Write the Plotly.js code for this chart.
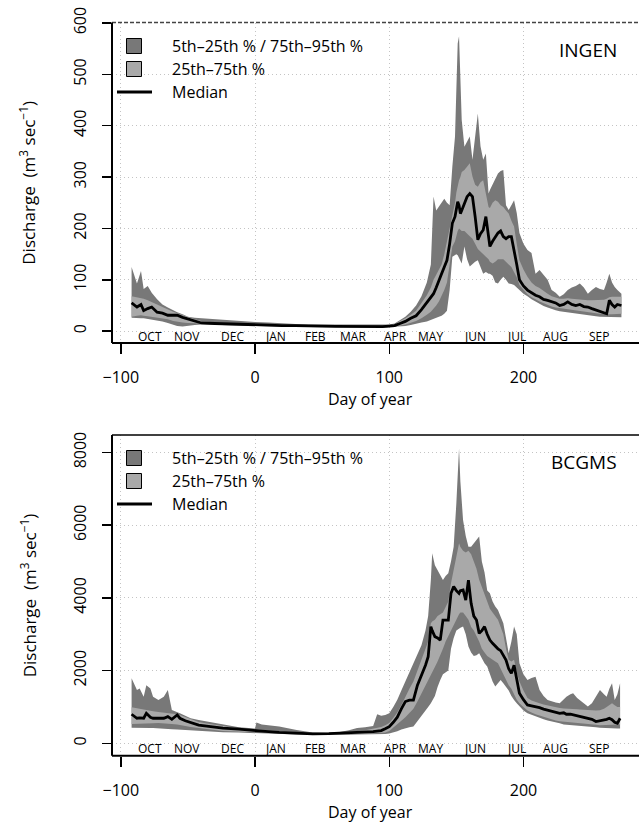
<!DOCTYPE html>
<html>
<head>
<meta charset="utf-8">
<script src="https://cdn.plot.ly/plotly-3.0.1.min.js"></script>
<style>html,body{margin:0;padding:0;background:#fff;}#chart{width:639px;height:823px;}</style>
</head>
<body>
<div id="chart"></div>
<script>
// ---------- DATA ----------
const monthLabels = ["OCT","NOV","DEC","JAN","FEB","MAR","APR","MAY","JUN","JUL","AUG","SEP"];
const monthPos = [-78,-51,-17,15,45,73,105,131,164,195,224,256];
const xTickVals = [-100,0,100,200];
const xTickText = ["\u2212100","0","100","200"];
const ingenYTicks = [0,100,200,300,400,500,600];
const bcgmsYTicks = [0,2000,4000,6000,8000];
const legendLabels = ["5th\u201325th % / 75th\u201395th %","25th\u201375th %","Median"];

// INGEN
const ingenDays = [-92,-88,-85,-83,-80,-77,-73,-69,-65,-61,-58,-54,-50,-45,-40,-30,-20,-10,0,10,20,30,40,50,60,70,80,90,95,100,104,108,112,116,120,124,128,131,133,135,137,139,141,143,145,147,149,150,151,152,153,154,156,158,160,162,164,166,168,170,172,174,175,177,179,181,183,185,187,189,191,193,195,197,200,203,206,209,212,215,218,221,224,227,230,233,236,239,242,245,248,251,254,257,260,262,264,266,268,270,273];
const ingenP5 = [26,26,25,25,24,23,21,19,16,13, 10,9,10,12,13,12,12,11,10,10, 9,9,8,8,8,7,7,7,7,7, 8,9,10,12,14,17,19,22,24,26, 28,30,34,40,80,145,148,150,148,145, 138,132,165,140,126,130,135,138,125,112, 115,112,112,108,95,93,100,106,100,93, 92,90,86,80,73,68,62,57,53,49, 46,43,41,39,37,36,35,34,33,32, 31,30,29,28,28,27,27,27,27,27, 27];
const ingenP25 = [28,30,31,30,29,28,27,25,23,20, 18,17,16,15,14,13,13,12,11,11, 10,10,9,9,9,8,8,8,8,8, 9,11,13,16,20,25,32,38,44,50, 58,68,80,95,130,165,175,185,195,200, 198,195,195,190,185,180,170,160,155,150, 145,140,135,132,135,140,140,140,135,130, 125,115,105,90,80,72,66,62,58,54, 51,48,46,44,43,42,41,40,39,38, 37,36,35,34,33,33,33,33,33,33, 34];
const ingenMedian = [55,47,52,40,44,47,37,35,31,31, 31,27,24,19,16,15,14,13,12.7,12, 11,11,10,10,9.5,9,9,9,9,10, 11,15,19,25,30,42,55,65,73,85, 100,112,125,138,170,210,223,240,252,245, 229,235,249,262,268,262,223,178,190,197, 223,190,165,175,184,191,195,184,180,184, 184,160,130,100,88,80,75,70,67,62, 60,57,55,50,52,57,52,50,52,48, 47,44,41,38,35,34,60,52,47,52, 50];
const ingenP75 = [68,66,65,63,60,57,52,47,42,38, 35,31,27,23,20,17,16,15,14,13, 12,12,11,11,10.5,10,10,10,10,11, 13,20,25,32,40,55,70,85,100,110, 120,130,150,175,200,230,250,270,285,294, 300,310,314,320,327,301,285,281,290,294, 270,242,240,250,255,252,245,242,235,229, 215,204,170,138,120,106,95,88,84,78, 73,68,65,63,63,64,63,62,62,61, 60,60,60,60,61,63,66,67,67,67, 67];
const ingenP95 = [125,93,117,82,88,75,62,52,46,40, 37,33,28,26,25,23,21,19,18,17, 15,14,13,13,12,12,12,12,12,13, 15,22,28,38,50,68,95,130,262,235, 242,250,258,250,245,320,379,470,560,574, 480,411,359,370,379,334,380,424,360,334, 346,268,275,285,295,307,312,314,245,236, 245,255,230,191,170,158,152,112,119,110, 100,80,75,67,72,80,85,88,93,85, 73,80,86,82,80,95,112,95,86,80, 73];

// BCGMS
const bcgmsDays = [-92,-88,-86,-83,-81,-78,-76,-72,-68,-65,-62,-58,-56,-52,-48,-42,-36,-30,-24,-12,0,1,5,18,31,43,55,63,70,76,82,88,91,94,97,100,103,106,109,112,115,118,121,124,127,129,131,132,134,136,138,140,142,144,146,148,150,152,153,155,157,159,161,163,165,167,169,171,173,175,177,179,181,183,185,187,189,191,193,195,197,200,203,206,209,212,215,218,221,224,227,230,232,235,237,240,242,245,248,251,254,257,260,262,264,266,268,270,272];
const bcgmsP5 = [430,430,430,430,425,420,420,415,410,400, 390,380,375,365,360,340,325,315,305,295, 285,285,280,265,245,235,230,230,235,240, 245,250,255,255,260,270,290,330,380,420, 440,460,600,750,900,1000,1100,1150,1300,1550, 1740,1900,1950,2000,2600,2900,3100,3150,3180,3210, 3000,2660,2500,2400,2420,2475,2350,2200,2110,1900, 1700,1560,1650,1740,1650,1560,1450,1300,1190,1100, 1010,900,830,780,740,700,660,630,600,570, 550,520,500,490,480,475,470,465,460,450, 440,430,420,415,410,410,410,410,410];
const bcgmsP25 = [530,530,535,540,545,550,555,560,555,545, 530,520,510,480,450,420,390,370,340,330, 310,310,305,290,265,250,245,245,250,260, 265,275,280,285,300,340,420,520,620,720, 820,950,1150,1350,1600,1750,1900,1950,2100,2250, 2400,2600,2800,2950,3100,3250,3400,3550,3600,3600, 3500,3400,3200,3100,2950,2800,2600,2500,2400,2350, 2300,2250,2200,2050,1900,1750,1600,1500,1350,1200, 1100,1000,900,850,800,760,720,690,660,630, 610,590,580,570,560,550,545,540,530,520, 510,500,500,500,505,510,515,520,520];
const bcgmsMedian = [800,690,700,690,825,715,690,690,690,735, 660,780,690,620,570,500,475,445,420,390, 340,340,335,300,280,260,265,275,285,290, 300,320,335,350,400,460,580,720,950,1150, 1190,1190,1600,1850,2150,2380,3210,3100,2935,2900, 2840,3390,3400,3390,4125,4310,4200,4125,4200,4220, 3940,4490,3850,3500,3390,3025,3100,3210,3000,2840, 2750,2660,2600,2550,2400,2290,2050,1925,2150,1740, 1375,1200,1055,1030,1010,980,940,910,880,860, 825,840,800,800,780,760,740,720,690,660, 600,620,640,660,690,650,580,550,690];
const bcgmsP75 = [990,960,940,920,900,890,880,865,850,840, 820,800,780,720,660,590,545,510,470,410, 370,380,370,340,310,285,285,300,320,340, 360,400,420,450,500,560,700,850,1050,1300, 1500,1700,2000,2350,2650,2800,3300,3350,3400,3500, 3550,3600,3750,3900,4400,4800,5200,5500,5400,5300, 5250,5300,5200,5000,4800,4500,4300,4100,3900,3700, 3600,3500,3400,3200,3000,2600,2300,2250,2300,1950, 1700,1450,1250,1180,1130,1100,1070,1040,1010,990, 970,960,960,950,950,940,930,920,910,900, 900,910,950,1000,1050,1100,1050,1000,1000];
const bcgmsP95 = [1790,1470,1510,1280,1600,1510,1280,1190,1280,1470, 917,870,825,760,690,640,600,560,505,440, 410,570,520,460,370,300,290,310,360,420, 440,480,800,760,780,830,1000,1200,1450,1700, 1925,2150,2450,2700,3100,3500,4500,5230,4900,4770, 4600,4490,4600,4680,5000,5410,6600,8115,7200,6140, 5700,5410,5410,5500,5600,5690,5000,4700,4200,4125, 3900,3760,3670,3500,3300,2900,2475,2800,3210,3000, 2200,1900,1740,1800,1830,1470,1300,1190,1150,1120, 1100,1200,1280,1350,1375,1250,1190,1100,1010,1100, 1300,1470,1350,1280,1500,1650,1190,1350,1650];

// ---------- STYLE ----------
const W = 639, H = 823;
const FONT = "Open Sans, Noto Sans, DejaVu Sans, sans-serif";
const DARK = "#787878", LIGHT = "#a9a9a9";
const px = v => v / W;
const py = v => 1 - v / H;

const plotL = 112;
const top1 = 22.5, bot1 = 343;
const top2 = 435, bot2 = 755.7;

function band(days, lo, hi, color, xa, ya) {
  const xs = days.concat(days.slice().reverse());
  const ys = hi.concat(lo.slice().reverse());
  return {type: "scatter", mode: "lines", x: xs, y: ys, fill: "toself", fillcolor: color,
          line: {width: 0, color: color}, xaxis: xa, yaxis: ya, hoverinfo: "skip", showlegend: false};
}
function medLine(days, med, xa, ya) {
  return {type: "scatter", mode: "lines", x: days, y: med, line: {color: "#000", width: 2.8},
          xaxis: xa, yaxis: ya, hoverinfo: "skip", showlegend: false};
}

const data = [
  band(ingenDays, ingenP5, ingenP95, DARK, "x", "y"),
  band(ingenDays, ingenP25, ingenP75, LIGHT, "x", "y"),
  medLine(ingenDays, ingenMedian, "x", "y"),
  band(bcgmsDays, bcgmsP5, bcgmsP95, DARK, "x2", "y2"),
  band(bcgmsDays, bcgmsP25, bcgmsP75, LIGHT, "x2", "y2"),
  medLine(bcgmsDays, bcgmsMedian, "x2", "y2")
];

const GRID = {showgrid: true, gridcolor: "#c4c4c4", griddash: "1px,3px", gridwidth: 1};
const xBase = Object.assign({
  domain: [px(plotL), 1], range: [-106.6, 286.1], tickmode: "array", tickvals: xTickVals, ticktext: xTickText,
  ticks: "outside", ticklen: 10, tickwidth: 1.5, tickcolor: "#000", showline: false, zeroline: false,
  tickfont: {family: FONT, size: 16, color: "#000"}, ticklabelstandoff: 10
}, GRID);
const yBase = Object.assign({
  ticks: "outside", ticklen: 9, tickwidth: 1.5, tickcolor: "#000", showline: false, zeroline: false,
  tickangle: -90, tickfont: {family: FONT, size: 16, color: "#000"}, tickmode: "array", ticklabelstandoff: 10
}, GRID);

const shapes = [];
const annotations = [];
function addPanel(topY, botY, dashedTop, label, labelY, legTop) {
  shapes.push({type: "line", xref: "paper", yref: "paper", x0: px(plotL), x1: 1, y0: py(topY), y1: py(topY),
    line: dashedTop ? {color: "#444", width: 1.5, dash: "4px,2px"} : {color: "#000", width: 1.5}});
  shapes.push({type: "line", xref: "paper", yref: "paper", x0: px(plotL), x1: px(plotL), y0: py(topY), y1: py(botY),
    line: {color: "#000", width: 2}});
  shapes.push({type: "line", xref: "paper", yref: "paper", x0: px(plotL), x1: 1, y0: py(botY), y1: py(botY),
    line: {color: "#000", width: 2}});
  const sq = 7.5, cx = 134;
  [[DARK, legTop], [LIGHT, legTop + 23]].forEach(([c, yy]) => {
    shapes.push({type: "rect", xref: "paper", yref: "paper", x0: px(cx - sq), x1: px(cx + sq), y0: py(yy + sq), y1: py(yy - sq),
      fillcolor: c, line: {color: "#000", width: 1}});
  });
  shapes.push({type: "line", xref: "paper", yref: "paper", x0: px(117), x1: px(152), y0: py(legTop + 46), y1: py(legTop + 46),
    line: {color: "#000", width: 3}});
  legendLabels.forEach((t, i) => {
    annotations.push({xref: "paper", yref: "paper", x: px(170), y: py(legTop + 23 * i), text: t, showarrow: false,
      xanchor: "left", yanchor: "middle", font: {family: FONT, size: 16, color: "#000"}});
  });
  annotations.push({xref: "paper", yref: "paper", x: px(619), y: py(labelY), text: label, showarrow: false,
    xanchor: "right", yanchor: "middle", font: {family: FONT, size: 19, color: "#000"}});
  annotations.push({xref: "paper", yref: "paper", x: px(28), y: py((topY + botY) / 2), textangle: -90,
    text: "Discharge  (m<sup>3</sup> sec<sup>\u22121</sup>)", showarrow: false, xanchor: "center", yanchor: "middle",
    font: {family: FONT, size: 17, color: "#000"}});
  annotations.push({xref: "paper", yref: "paper", x: px(370), y: py(botY + 56), text: "Day of year", showarrow: false,
    xanchor: "center", yanchor: "middle", font: {family: FONT, size: 16, color: "#000"}});
}
addPanel(top1, bot1, true, "INGEN", 50, 46);
addPanel(top2, bot2, false, "BCGMS", 462, 458);

monthLabels.forEach((m, i) => {
  annotations.push({xref: "x", yref: "paper", x: monthPos[i], y: py(336.5), text: m, showarrow: false,
    xanchor: "center", yanchor: "middle", font: {family: FONT, size: 12, color: "#000"}});
  annotations.push({xref: "x2", yref: "paper", x: monthPos[i], y: py(748), text: m, showarrow: false,
    xanchor: "center", yanchor: "middle", font: {family: FONT, size: 12, color: "#000"}});
});

const layout = {
  width: W, height: H, margin: {l: 0, r: 0, t: 0, b: 0}, paper_bgcolor: "#fff", plot_bgcolor: "#fff",
  showlegend: false, hovermode: false,
  xaxis: Object.assign({}, xBase, {anchor: "y"}),
  yaxis: Object.assign({}, yBase, {domain: [py(bot1), py(top1)], range: [-23, 601], tickvals: ingenYTicks, anchor: "x"}),
  xaxis2: Object.assign({}, xBase, {anchor: "y2"}),
  yaxis2: Object.assign({}, yBase, {domain: [py(bot2), py(top2)], range: [-340, 8480], tickvals: bcgmsYTicks, anchor: "x2"}),
  shapes: shapes, annotations: annotations
};

Plotly.newPlot("chart", data, layout, {staticPlot: true, displayModeBar: false});
</script>
</body>
</html>
